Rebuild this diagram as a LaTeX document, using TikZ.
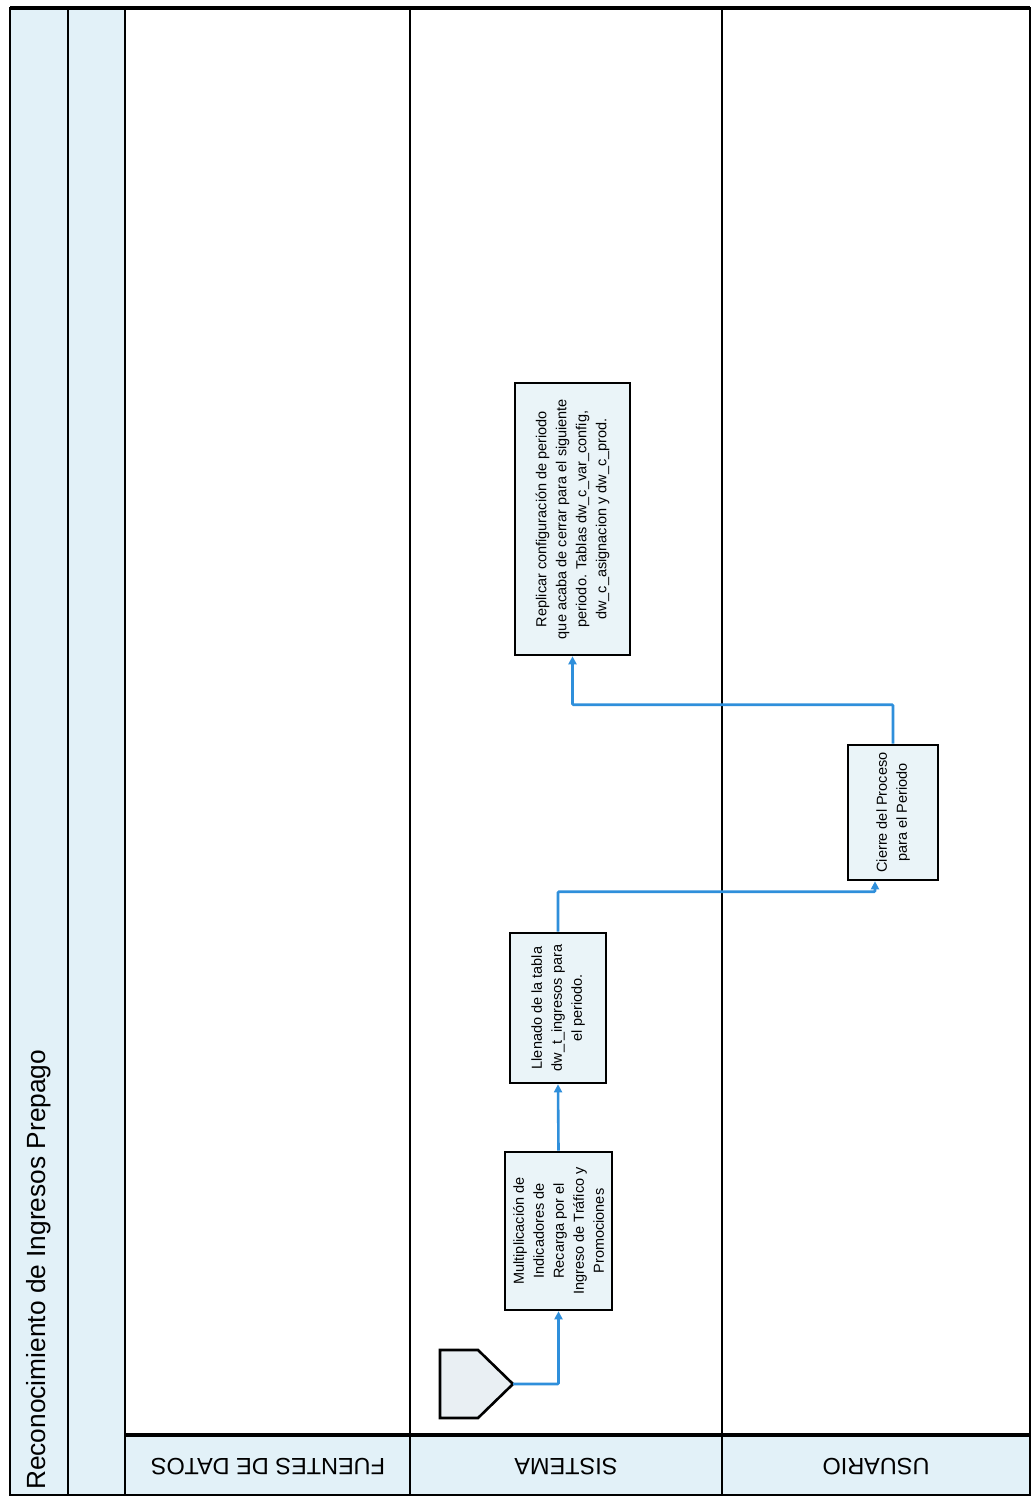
\documentclass[tikz,border=0pt]{standalone}
\usepackage{fontspec}
\setmainfont{Liberation Sans}
\usetikzlibrary{calc,arrows.meta}
\definecolor{hdr}{HTML}{E2F1F8}
\definecolor{boxfill}{HTML}{EAF4F8}
\definecolor{startfill}{HTML}{E9EFF3}
\definecolor{flow}{HTML}{2F8FDB}
\begin{document}
\begin{tikzpicture}[x=1pt,y=-1pt,
  procbox/.style={draw=black, line width=2.6pt, fill=boxfill, rotate=90, align=center,
    font=\fontsize{14.5}{20}\selectfont, inner sep=2pt},
  lanelabel/.style={rotate=180, font=\fontsize{23.5}{26}\selectfont},
  flowline/.style={draw=flow, line width=2.6pt, -{Triangle[length=8pt,width=8pt]}, rounded corners=1pt},
  frameline/.style={line width=2.5pt}]
\useasboundingbox (0,0) rectangle (1033,1501);
\fill[white] (0,0) rectangle (1033,1501);
\fill[hdr] (10,8) rectangle (125,1495);
\fill[hdr] (125,1435) rectangle (1030,1495);
\draw[frameline] (10,8) rectangle (1030,1495);
\draw[frameline] (68,8) -- (68,1495);
\draw[frameline] (125,8) -- (125,1495);
\draw[frameline] (410,8) -- (410,1495);
\draw[frameline] (722,8) -- (722,1495);
\draw[line width=3.2pt] (125,1435) -- (1030,1435);
\draw[line width=3.2pt] (10,8) -- (1030,8);

\node[rotate=90, anchor=west, font=\fontsize{26.3}{30}\selectfont, inner sep=0pt] (title) at (39,1490) {Reconocimiento de Ingresos Prepago};

\node[lanelabel] (l1) at (268,1467) {FUENTES DE DATOS};
\node[lanelabel] (l2) at (566,1467) {SISTEMA};
\node[lanelabel] (l3) at (876,1467) {USUARIO};

\draw[line width=2.6pt, fill=startfill, line join=miter] (440,1350) -- (478,1350) -- (513,1384) -- (478,1418) -- (440,1418) -- cycle;
\coordinate (start) at (513,1384);

\node[procbox, minimum width=158, minimum height=107] (b1) at (558.5,1231)
  {Multiplicación de\\Indicadores de\\Recarga por el\\Ingreso de Tráfico y\\Promociones};
\node[procbox, minimum width=150, minimum height=96] (b2) at (558,1008)
  {Llenado de la tabla\\dw\_t\_ingresos para\\el periodo.};
\node[procbox, minimum width=272, minimum height=115] (b3) at (572.5,519)
  {Replicar configuración de periodo\\que acaba de cerrar para el siguiente\\periodo. Tablas dw\_c\_var\_config,\\dw\_c\_asignacion y dw\_c\_prod.};
\node[procbox, minimum width=135, minimum height=90] (b4) at (893,812.5)
  {Cierre del Proceso\\para el Periodo};

\draw[flowline] (start) -| (b1.west);
\draw[flowline] (b1.east) -- (b2.west);
\draw[flowline] (b2.east) -- ++(0,-40) -| ($(b4.west)+(-18,0)$);
\draw[flowline] (b4.east) -- ++(0,-39) -| (b3.west);
\end{tikzpicture}
\end{document}
